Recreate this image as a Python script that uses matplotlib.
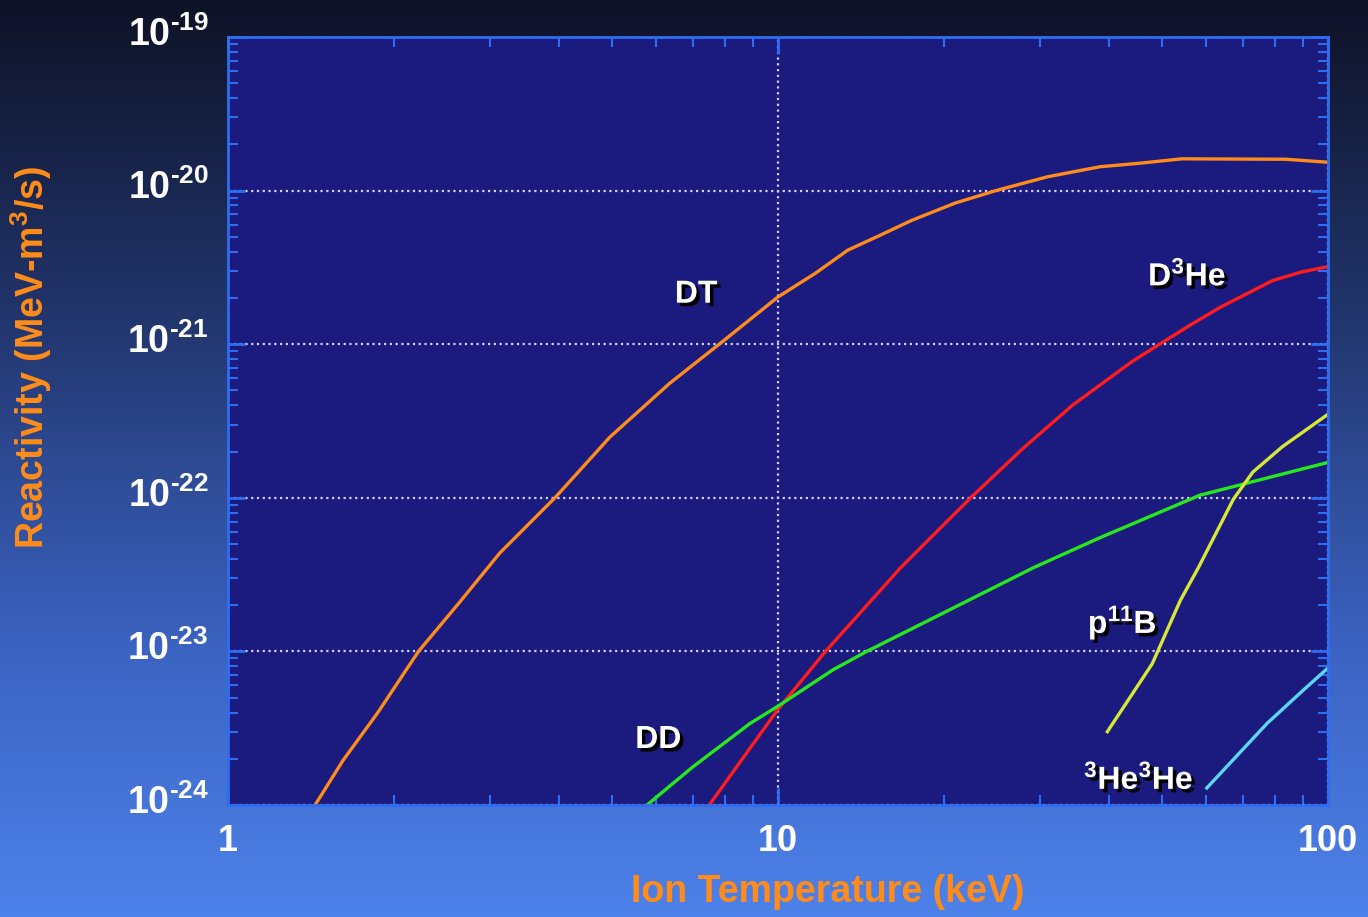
import numpy as np
import matplotlib
matplotlib.use("Agg")
import matplotlib.pyplot as plt
import matplotlib.patheffects as pe
from matplotlib.colors import LinearSegmentedColormap
from matplotlib.ticker import LogLocator, FixedLocator, FuncFormatter, NullFormatter
from matplotlib.transforms import ScaledTranslation

plt.rcParams['font.family'] = ['Liberation Sans', 'DejaVu Sans']
plt.rcParams['font.weight'] = 'bold'
plt.rcParams['mathtext.fontset'] = 'custom'
plt.rcParams['mathtext.rm'] = 'Liberation Sans:bold'
plt.rcParams['mathtext.it'] = 'Liberation Sans:bold'
plt.rcParams['mathtext.bf'] = 'Liberation Sans:bold'
plt.rcParams['mathtext.default'] = 'rm'

# reactivity (MeV m^3/s) vs ion temperature (keV)
dt_T = [1.44, 1.62, 1.87, 2.22, 2.64, 3.12, 3.93, 4.95, 6.36, 7.98, 10, 11.7, 13.4,
        15.3, 17.5, 21.0, 24.9, 30.9, 38.5, 45.7, 54.2, 83.7, 100]
dt_R = [1.0e-24, 1.96e-24, 3.97e-24, 1.0e-23, 2.1e-23, 4.37e-23, 1.0e-22, 2.49e-22,
        5.58e-22, 1.06e-21, 2.03e-21, 2.9e-21, 4.1e-21, 5.1e-21, 6.4e-21, 8.3e-21,
        1.0e-20, 1.23e-20, 1.43e-20, 1.51e-20, 1.61e-20, 1.6e-20, 1.53e-20]

dhe3_T = [7.5, 10, 12.2, 14.0, 16.7, 22.4, 27.9, 34.3, 44.0, 49.4, 56.9, 63.9, 79.4,
          89.4, 100]
dhe3_R = [1.0e-24, 4.2e-24, 1.0e-23, 1.73e-23, 3.5e-23, 1.0e-22, 2.1e-22, 4.0e-22,
          7.7e-22, 1.0e-21, 1.37e-21, 1.75e-21, 2.6e-21, 2.95e-21, 3.2e-21]

dd_T = [5.78, 7.0, 8.9, 10, 12.6, 14.5, 23.6, 29.1, 38.5, 58.5, 100]
dd_R = [1.0e-24, 1.77e-24, 3.4e-24, 4.4e-24, 7.6e-24, 1.0e-23, 2.4e-23, 3.5e-23,
        5.5e-23, 1.04e-22, 1.7e-22]

pb11_T = [39.7, 47.9, 53.9, 58.1, 67.3, 73, 82.6, 100]
pb11_R = [3.0e-24, 8.3e-24, 2.15e-23, 3.5e-23, 9.8e-23, 1.47e-22, 2.15e-22, 3.5e-22]

he3he3_T = [60.2, 77.5, 90.2, 100]
he3he3_R = [1.29e-24, 3.4e-24, 5.6e-24, 7.8e-24]

x_ticks = [1, 10, 100]
y_ticks = [1e-24, 1e-23, 1e-22, 1e-21, 1e-20, 1e-19]

fig = plt.figure(figsize=(13.68, 9.17), dpi=100)

# vertical gradient background
bg = fig.add_axes([0, 0, 1, 1], zorder=0)
cmap = LinearSegmentedColormap.from_list(
    "bg", [(0.0, "#0e1226"), (0.35, "#22366e"), (0.7, "#3b62c0"), (1.0, "#4d82ea")])
bg.imshow(np.linspace(0, 1, 256).reshape(-1, 1), aspect='auto', cmap=cmap,
          extent=[0, 1, 0, 1])
bg.set_axis_off()

ax = fig.add_axes([228 / 1368, 1 - 805 / 917, 1100 / 1368, 768 / 917], zorder=1)
ax.set_facecolor("#1b1a7e")
ax.set_xscale('log')
ax.set_yscale('log')
ax.set_xlim(1, 100)
ax.set_ylim(1e-24, 1e-19)

lw = 2.4
ax.plot(dt_T, dt_R, color="#ff8c1a", lw=lw)
ax.plot(dhe3_T, dhe3_R, color="#ff1c1c", lw=lw)
ax.plot(dd_T, dd_R, color="#26e81c", lw=lw)
ax.plot(pb11_T, pb11_R, color="#d6e834", lw=lw)
ax.plot(he3he3_T, he3he3_R, color="#5cd6f2", lw=lw)

frame = "#2e6df0"
for s in ax.spines.values():
    s.set_color(frame)
    s.set_linewidth(2)

ax.grid(True, which='major', color="#d0d0ff", linestyle=(0, (1, 1.6)), lw=1.6)

ax.xaxis.set_major_locator(FixedLocator(x_ticks))
ax.yaxis.set_major_locator(FixedLocator(y_ticks))
ax.xaxis.set_minor_locator(LogLocator(base=10, subs=np.arange(2, 10)))
ax.yaxis.set_minor_locator(LogLocator(base=10, subs=np.arange(2, 10), numticks=20))
ax.xaxis.set_minor_formatter(NullFormatter())
ax.yaxis.set_minor_formatter(NullFormatter())
ax.yaxis.set_major_formatter(
    FuncFormatter(lambda v, p: r"$10^{\text{-}%d}$" % round(-np.log10(v))))
ax.xaxis.set_major_formatter(FuncFormatter(lambda v, p: f"{v:g}"))

ax.tick_params(which='both', direction='in', color=frame, top=True, right=True)
ax.tick_params(which='major', length=12, width=2)
ax.tick_params(which='minor', length=7, width=1.5)
ax.tick_params(axis='y', which='major', labelsize=27, labelcolor='white', pad=14)
ax.tick_params(axis='x', which='major', labelsize=26, labelcolor='white', pad=14)

# lift the y tick labels a little above their gridlines
for lab in ax.get_yticklabels():
    lab.set_transform(lab.get_transform() + ScaledTranslation(0, 6 / 100, fig.dpi_scale_trans))

ax.set_xlabel("Ion Temperature (keV)", color="#ff8c1a", fontsize=27, fontweight='bold')
ax.set_ylabel(r"Reactivity (MeV-m$^3$/s)", color="#ff8c1a", fontsize=27,
              fontweight='bold')
ax.xaxis.set_label_coords(0.545, -0.09)
ax.yaxis.set_label_coords(-0.158, 0.583)

labels = [
    ("DT", 7.1, 2.1e-21),
    ("D$^{3}$He", 55.5, 2.75e-21),
    ("DD", 6.06, 2.65e-24),
    ("p$^{11}$B", 42.3, 1.53e-23),
    ("$^{3}$He$^{3}$He", 45.3, 1.45e-24),
]
for txt, x, y in labels:
    t = ax.text(x, y, txt, color='white', fontsize=23, fontweight='bold',
                ha='center', va='center')
    t.set_path_effects([pe.withSimplePatchShadow(offset=(2.5, -2.5),
                                                 shadow_rgbFace='black', alpha=1.0)])

fig.savefig("out.png", dpi=100)
